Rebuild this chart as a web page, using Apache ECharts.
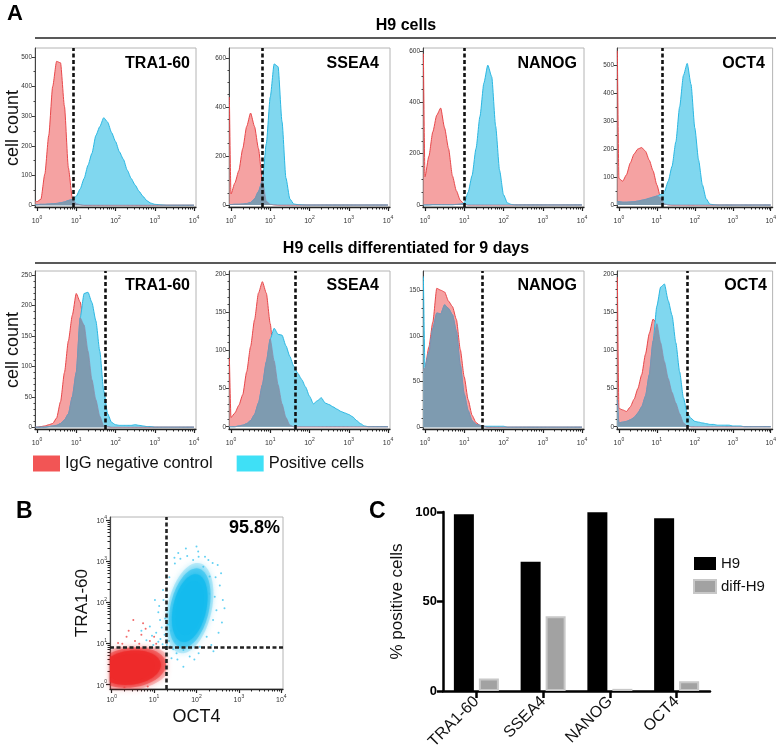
<!DOCTYPE html>
<html><head><meta charset="utf-8">
<script src="https://cdn.jsdelivr.net/npm/echarts@6/dist/echarts.min.js"></script>
<style>html,body{margin:0;padding:0;background:#fff}#c{width:779px;height:756px}</style>
</head><body><div id="c"></div>
<script>
const FONT = '"Liberation Sans", Arial, Helvetica, sans-serif';

// ---------- Panel A: histogram bins (log10 of fluorescence) ----------
const binLog = [-0.04,
  0,0.1,0.2,0.3,0.4,0.5,0.6,0.7,0.8,0.9,
  1,1.1,1.2,1.3,1.4,1.5,1.6,1.7,1.8,1.9,
  2,2.1,2.2,2.3,2.4,2.5,2.6,2.7,2.8,2.9,
  3,3.1,3.2,3.3,3.4,3.5,3.6,3.7,3.8,3.9,
  4];

// H9 cells
const h9Tra160Neg = [15, 12,20,105,235,400,485,480,333,126,25, 5,2,0,0,0,0,0,0,0,0, 0,0,0,0,0,0,0,0,0,0, 0,0,0,0,0,0,0,0,0,0, 0];
const h9Tra160Pos = [2, 2,3,3,4,5,6,8,11,16,20, 30,55,90,135,175,235,265,295,280,245, 215,180,155,118,90,68,47,30,15,7, 3,2,1,0,0,0,0,0,0,0, 0];
const h9Ssea4Neg  = [440, 45,90,140,230,320,375,320,230,100,15, 3,1,0,0,0,0,0,0,0,0, 0,0,0,0,0,0,0,0,0,0, 0,0,0,0,0,0,0,0,0,0, 0];
const h9Ssea4Pos  = [2, 2,3,3,4,6,10,25,55,100,250, 440,575,564,340,110,25,4,2,1,0, 0,0,0,0,0,0,0,0,0,0, 0,0,0,0,0,0,0,0,0,0, 0];
const h9NanogNeg  = [590, 110,190,285,350,378,300,220,113,55,18, 3,0,0,0,0,0,0,0,0,0, 0,0,0,0,0,0,0,0,0,0, 0,0,0,0,0,0,0,0,0,0, 0];
const h9NanogPos  = [0, 0,0,1,1,1,1,1,1,2,3, 8,50,115,220,345,475,545,500,307,135, 40,8,2,0,0,0,0,0,0,0, 0,0,0,0,0,0,0,0,0,0, 0];
const h9Oct4Neg   = [550, 95,85,108,150,182,200,205,192,160,122, 72,26,4,1,0,0,0,0,0,0, 0,0,0,0,0,0,0,0,0,0, 0,0,0,0,0,0,0,0,0,0, 0];
const h9Oct4Pos   = [12, 12,10,10,11,12,14,17,20,24,28, 32,38,48,85,138,225,350,462,505,430, 275,160,72,22,3,1,0,0,0,0, 0,0,0,0,0,0,0,0,0,0, 0];
// H9 cells differentiated for 9 days
const dTra160Neg  = [0, 0,1,2,4,6,15,42,90,142,184, 220,206,168,125,78,45,18,2,1,0, 0,0,0,0,0,0,0,0,0,0, 0,0,0,0,0,0,0,0,0,0, 0];
const dTra160Pos  = [0, 0,0,0,1,2,3,6,12,22,50, 90,180,220,222,205,175,125,60,22,8, 4,3,3,3,3,4,3,2,1,1, 0,0,0,0,0,0,0,0,0,0, 0];
const dSsea4Neg   = [90, 12,18,28,42,72,105,140,175,190,175, 135,86,55,30,12,2,0,0,0,0, 0,0,0,0,0,0,0,0,0,0, 0,0,0,0,0,0,0,0,0,0, 0];
const dSsea4Pos   = [0, 0,0,1,2,4,8,16,31,55,85, 115,129,121,120,106,92,79,70,62,52, 40,30,34,38,31,29,26,23,20,18, 16,13,8,4,1,0,0,0,0,0, 0];
const dNanogNeg   = [62, 65,88,115,152,150,148,138,132,118,85, 55,30,13,5,2,1,0,0,0,0, 0,0,0,0,0,0,0,0,0,0, 0,0,0,0,0,0,0,0,0,0, 0];
const dNanogPos   = [165, 66,82,108,125,124,134,130,123,105,68, 36,18,7,3,2,1,1,1,1,1, 1,0,0,0,0,0,0,0,0,0, 0,0,0,0,0,0,0,0,0,0, 0];
const dOct4Neg    = [196, 24,22,20,26,36,50,68,95,122,141, 135,110,85,63,45,31,17,5,1,0, 0,0,0,0,0,0,0,0,0,0, 0,0,0,0,0,0,0,0,0,0, 0];
const dOct4Pos    = [35, 5,6,7,9,12,18,26,40,68,112, 158,183,187,165,146,110,72,38,18,11, 7,6,5,4,3,3,2,2,2,2, 1,1,1,0,0,0,0,0,0,0, 0];

const gatesH9   = [0.92, 0.80, 0.99, 1.15];
const gatesDiff = [1.75, 1.63, 1.45, 1.80];
const markers   = ['TRA1-60', 'SSEA4', 'NANOG', 'OCT4'];
const yTicksH9   = [[0,100,200,300,400,500],[0,200,400,600],[0,200,400,600],[0,100,200,300,400,500]];
const yTicksDiff = [[0,50,100,150,200,250],[0,50,100,150,200],[0,50,100,150],[0,50,100,150,200]];
const decades = [0,1,2,3,4];

// ---------- Panel B: flow scatter (log10 OCT4, log10 TRA1-60) ----------
const redCloud  = [[0.45, 0.40, 0.95, 0.55, 8]];   // [cx, cy, rx, ry, tilt deg]
const blueCloud = [[1.84, 1.85, 0.52, 1.12, -12]];
const gateB = {x: 1.28, y: 0.90};
const blueDots = [[1.57,3.19],[2.04,3.23],[2.31,2.62],[2.43,2.13],[2.39,1.56],[2.24,1.15],[1.69,0.83],[1.53,0.75],[1.41,0.63],
  [1.14,1.56],[0.90,1.40],[1.02,2.05],[1.21,2.29],[1.29,2.78],[1.49,2.94],[1.92,3.02],[2.16,2.86],[2.47,1.80],[2.08,0.91],
  [1.84,0.67],[1.69,0.42],[0.82,1.07],[1.10,1.03],[0.98,0.95],[1.35,1.05],[1.25,1.20],[1.05,1.25],[1.30,0.95],[1.20,0.97],
  [1.15,1.10],[2.55,2.40],[2.60,1.50],[2.35,0.95],[1.95,0.60],[1.45,0.85],[1.38,0.92],[2.20,3.10],[1.75,3.30],[2.50,2.90],
  [1.30,1.80],[1.10,1.75],[0.70,1.30],[2.30,2.20],[1.60,0.90],[1.50,1.05],[1.33,1.45],[1.40,1.30],[1.18,1.38],[0.95,1.18],
  [2.45,2.60],[2.62,2.05],[1.62,3.05],[2.05,3.10],[2.38,2.95],[2.52,1.25],[2.40,0.80],[1.30,2.45],[1.22,2.05],[1.36,2.60],
  [2.58,2.70],[2.05,0.75],[1.55,0.60],[1.78,3.12],[2.28,3.02],[1.12,1.90],[1.26,1.60],[2.66,1.85],[1.48,3.08],[2.00,3.35]];
const redDots = [[0.51,1.56],[0.74,1.48],[0.35,1.15],[0.70,1.20],[0.55,1.05],[0.90,1.05],[0.15,1.00],[1.05,0.98],[0.80,1.35],
  [0.25,0.98],[0.65,0.98],[0.40,1.30],[1.00,1.15],[0.30,-0.08],[0.85,-0.06]];
const pctLabel = '95.8%';

// ---------- Panel C: % positive cells ----------
const barCats  = ['TRA1-60', 'SSEA4', 'NANOG', 'OCT4'];
const barH9    = [98.8, 72.2, 99.9, 96.5];
const barDiff  = [7.0, 41.8, 1.2, 5.4];

// ---------- build ----------
const RED_LINE = '#e8474a', RED_FILL = '#f5a2a2';
const BLUE_LINE = '#2ab7e2', BLUE_FILL = '#80d7ef';
const OVL_FILL = '#7e9bb0', OVL_LINE = '#8b8aa7';

const minorLog = [];
for (let n = 0; n < 4; n++) for (let k = 2; k < 10; k++) minorLog.push(n + Math.log10(k));

const grids = [], xAxes = [], yAxes = [], series = [], graphics = [];

const panels = [
  {neg:h9Tra160Neg, pos:h9Tra160Pos}, {neg:h9Ssea4Neg, pos:h9Ssea4Pos},
  {neg:h9NanogNeg, pos:h9NanogPos}, {neg:h9Oct4Neg, pos:h9Oct4Pos},
  {neg:dTra160Neg, pos:dTra160Pos}, {neg:dSsea4Neg, pos:dSsea4Pos},
  {neg:dNanogNeg, pos:dNanogPos}, {neg:dOct4Neg, pos:dOct4Pos}
];
const lefts = [35, 229, 423, 617];
const rowTop = [48, 271], rowH = [159, 158];
const yRanges = [[-6,530],[-8,640],[-8,612],[-7,560],[-3,257],[-3,204],[-2,171],[-3,204]];
const minorSteps = [50,50,50,50,10,10,10,10];
const labelRight = [190, 379, 577, 765, 190, 379, 577, 767];

function logLabel(v) { return '{b|10}{s|' + Math.round(v) + '}'; }
const logRich = {
  b: {fontSize: 7, color: '#333', lineHeight: 10, verticalAlign: 'bottom', fontFamily: FONT},
  s: {fontSize: 5, color: '#333', verticalAlign: 'top', fontFamily: FONT}
};

function addLogX(gi, min, max, margin) {
  xAxes.push({gridIndex: gi, type: 'value', position: 'bottom', min, max,
    axisLine: {show: true, onZero: false, lineStyle: {color: '#222', width: 1.3}},
    axisTick: {show: true, customValues: decades, length: 4, lineStyle: {color: '#222', width: 1.2}},
    axisLabel: {show: true, customValues: decades, formatter: logLabel, margin: margin, rich: logRich},
    splitLine: {show: false}});
  xAxes.push({gridIndex: gi, type: 'value', position: 'bottom', min, max,
    axisLine: {show: false, onZero: false},
    axisTick: {show: true, customValues: minorLog, length: 2.5, lineStyle: {color: '#222', width: 1}},
    axisLabel: {show: false}, splitLine: {show: false}});
}

panels.forEach((p, gi) => {
  const row = gi < 4 ? 0 : 1, col = gi % 4;
  grids.push({left: lefts[col], top: rowTop[row], width: 161, height: rowH[row],
    show: true, borderColor: '#b4b4b4', borderWidth: 1, backgroundColor: 'transparent'});
  addLogX(gi, -0.05, 4.05, 8);
  const major = row === 0 ? yTicksH9[col] : yTicksDiff[col];
  const top = major[major.length - 1];
  const minor = [];
  for (let v = 0; v <= top; v += minorSteps[gi]) minor.push(v);
  yAxes.push({gridIndex: gi, type: 'value', position: 'left', min: yRanges[gi][0], max: yRanges[gi][1],
    axisLine: {show: true, onZero: false, lineStyle: {color: '#444', width: 1}},
    axisTick: {show: true, customValues: major, length: 3, lineStyle: {color: '#333'}},
    axisLabel: {show: true, customValues: major, fontSize: 6.5, color: '#333', margin: 3, fontFamily: FONT},
    splitLine: {show: false}});
  yAxes.push({gridIndex: gi, type: 'value', position: 'left', min: yRanges[gi][0], max: yRanges[gi][1],
    axisLine: {show: false, onZero: false},
    axisTick: {show: true, customValues: minor, length: 1.5, lineStyle: {color: '#444'}},
    axisLabel: {show: false}, splitLine: {show: false}});
  const xi = 2 * gi, yi = 2 * gi;
  const negData = binLog.map((x, i) => [x, p.neg[i]]);
  const posData = binLog.map((x, i) => [x, p.pos[i]]);
  const ovlData = binLog.map((x, i) => [x, Math.min(p.neg[i], p.pos[i])]);
  const common = {type: 'line', xAxisIndex: xi, yAxisIndex: yi, showSymbol: false, smooth: 0.2,
    smoothMonotone: 'x', silent: true, animation: false};
  series.push(Object.assign({}, common, {name: 'IgG negative control', data: negData, z: 2,
    lineStyle: {color: RED_LINE, width: 1}, itemStyle: {color: '#f25555'},
    areaStyle: {color: RED_FILL, opacity: 1}}));
  series.push(Object.assign({}, common, {name: 'Positive cells', data: posData, z: 3,
    lineStyle: {color: BLUE_LINE, width: 1}, itemStyle: {color: '#3fe0f6'},
    areaStyle: {color: BLUE_FILL, opacity: 1}}));
  series.push(Object.assign({}, common, {name: 'overlap', data: ovlData, z: 4,
    lineStyle: {color: OVL_LINE, width: 0.8}, areaStyle: {color: OVL_FILL, opacity: 1},
    markLine: {silent: true, symbol: 'none', label: {show: false},
      lineStyle: {color: '#111', width: 2.6, type: [4, 2.5]},
      data: [{xAxis: row === 0 ? gatesH9[col] : gatesDiff[col]}]}}));
  graphics.push({type: 'text', x: labelRight[gi], y: rowTop[row] + (row === 0 ? 8 : 7), z: 100,
    style: {text: markers[col], textAlign: 'right', textVerticalAlign: 'top',
      font: 'bold 16px ' + FONT, fill: '#000'}});
});

// ----- B scatter -----
const GB = 8;
grids.push({left: 110, top: 517, width: 173, height: 172, show: true, borderColor: '#b4b4b4', borderWidth: 1});
addLogX(GB, -0.04, 4.04, 5);
xAxes[2 * GB].name = 'OCT4';
xAxes[2 * GB].nameLocation = 'middle';
xAxes[2 * GB].nameGap = 19;
xAxes[2 * GB].nameTextStyle = {fontSize: 18, color: '#111', fontFamily: FONT};
yAxes.push({gridIndex: GB, type: 'value', position: 'left', min: -0.12, max: 4.07,
  name: 'TRA1-60', nameLocation: 'middle', nameGap: 19, nameRotate: 90,
  nameTextStyle: {fontSize: 17, color: '#111', fontFamily: FONT},
  axisLine: {show: true, onZero: false, lineStyle: {color: '#444', width: 1.2}},
  axisTick: {show: true, customValues: decades, length: 4, lineStyle: {color: '#222', width: 1.2}},
  axisLabel: {show: true, customValues: decades, formatter: logLabel, margin: 3, rich: logRich},
  splitLine: {show: false}});
yAxes.push({gridIndex: GB, type: 'value', position: 'left', min: -0.12, max: 4.07,
  axisLine: {show: false, onZero: false},
  axisTick: {show: true, customValues: minorLog, length: 2.5, lineStyle: {color: '#222'}},
  axisLabel: {show: false}, splitLine: {show: false}});

function cloudRenderer(color, bounds) {
  return function (params, api) {
    const cx = api.value(0), cy = api.value(1), rx = api.value(2), ry = api.value(3);
    const ang = api.value(4) * Math.PI / 180;
    const layers = [[1.0, 0.22, 6], [0.88, 0.45, 4], [0.75, 0.75, 2], [0.6, 1, 0]];
    const children = layers.map(([s, op, blur]) => {
      const pts = [];
      for (let k = 0; k < 72; k++) {
        const t = 2 * Math.PI * k / 72;
        const ex = rx * s * Math.cos(t), ey = ry * s * Math.sin(t);
        let x = cx + ex * Math.cos(ang) - ey * Math.sin(ang);
        let y = cy + ex * Math.sin(ang) + ey * Math.cos(ang);
        x = Math.max(bounds[0], Math.min(bounds[1], x));
        y = Math.max(bounds[2], Math.min(bounds[3], y));
        pts.push(api.coord([x, y]));
      }
      return {type: 'polygon', shape: {points: pts},
        style: {fill: color, opacity: op, shadowBlur: blur, shadowColor: color}};
    });
    return {type: 'group', children};
  };
}
series.push({type: 'custom', name: 'redCloud', xAxisIndex: 2 * GB, yAxisIndex: 2 * GB, data: redCloud, z: 2,
  silent: true, renderItem: cloudRenderer('#ee2a2a', [-0.04, gateB.x, -0.12, gateB.y])});
series.push({type: 'custom', name: 'blueCloud', xAxisIndex: 2 * GB, yAxisIndex: 2 * GB, data: blueCloud, z: 3,
  silent: true, renderItem: cloudRenderer('#14bbee', [-0.04, 4.04, -0.12, 4.07])});
series.push({type: 'scatter', name: 'blueDots', xAxisIndex: 2 * GB, yAxisIndex: 2 * GB, data: blueDots, z: 4,
  symbolSize: 2, itemStyle: {color: '#3cc6f0'}, silent: true});
series.push({type: 'scatter', name: 'redDots', xAxisIndex: 2 * GB, yAxisIndex: 2 * GB, data: redDots, z: 4,
  symbolSize: 2, itemStyle: {color: '#ee4444'}, silent: true,
  markLine: {silent: true, symbol: 'none', label: {show: false},
    lineStyle: {color: '#222', width: 2.6, type: [4, 2.5]},
    data: [{xAxis: gateB.x}, {yAxis: gateB.y}]}});

// ----- C bars -----
const GC = 9;
grids.push({left: 443, top: 512, width: 267, height: 179});
xAxes.push({gridIndex: GC, type: 'category', data: barCats, position: 'bottom',
  axisLine: {show: true, lineStyle: {color: '#000', width: 2.5}},
  axisTick: {show: true, alignWithLabel: true, length: 7, lineStyle: {color: '#000', width: 2.5}},
  axisLabel: {rotate: 45, fontSize: 16, color: '#111', margin: 8, fontFamily: FONT, interval: 0}});
yAxes.push({gridIndex: GC, type: 'value', min: 0, max: 100, interval: 50, position: 'left',
  name: '% positive cells', nameLocation: 'middle', nameGap: 37, nameRotate: 90,
  nameTextStyle: {fontSize: 17, color: '#111', fontFamily: FONT},
  axisLine: {show: true, lineStyle: {color: '#000', width: 2.5}},
  axisTick: {show: true, length: 6, lineStyle: {color: '#000', width: 2.5}},
  axisLabel: {fontSize: 13, fontWeight: 'bold', color: '#000', margin: 6, fontFamily: FONT},
  splitLine: {show: false}});
series.push({type: 'bar', name: 'H9', xAxisIndex: 2 * GB + 2, yAxisIndex: 2 * GB + 2, data: barH9,
  barWidth: 20, barGap: '25%', itemStyle: {color: '#000'}, silent: true});
series.push({type: 'bar', name: 'diff-H9', xAxisIndex: 2 * GB + 2, yAxisIndex: 2 * GB + 2, data: barDiff,
  barWidth: 20, itemStyle: {color: '#a2a2a2', borderColor: '#c8c8c8', borderWidth: 2}, silent: true});

// ----- texts -----
const T = (text, x, y, font, align) => ({type: 'text', x, y, z: 100,
  style: {text, textAlign: align || 'left', textVerticalAlign: 'top', font: font + ' ' + FONT, fill: '#000'}});
graphics.push(T('A', 7, 3, 'bold 22px'));
graphics.push(T('B', 16, 500, 'bold 23px'));
graphics.push(T('C', 369, 500, 'bold 23px'));
graphics.push(T('H9 cells', 406, 18, 'bold 16px', 'center'));
graphics.push(T('H9 cells differentiated for 9 days', 406, 241, 'bold 16px', 'center'));
graphics.push(T(pctLabel, 280, 519, 'bold 18px', 'right'));
graphics.push({type: 'line', shape: {x1: 35, y1: 38, x2: 776, y2: 38}, style: {stroke: '#222', lineWidth: 1.5}});
graphics.push({type: 'line', shape: {x1: 35, y1: 263, x2: 776, y2: 263}, style: {stroke: '#222', lineWidth: 1.5}});
[128, 350].forEach(cy => graphics.push({type: 'text', x: 13, y: cy, rotation: Math.PI / 2, z: 100,
  style: {text: 'cell count', textAlign: 'center', textVerticalAlign: 'middle', font: '18px ' + FONT, fill: '#111'}}));

const chart = echarts.init(document.getElementById('c'), null, {renderer: 'canvas'});
chart.setOption({
  animation: false,
  backgroundColor: '#fff',
  grid: grids, xAxis: xAxes, yAxis: yAxes, series,
  legend: [
    {data: [{name: 'IgG negative control', itemStyle: {color: '#f25555'}},
            {name: 'Positive cells', itemStyle: {color: '#3fe0f6'}}],
     left: 33, top: 455, padding: 0, icon: 'rect', itemWidth: 27, itemHeight: 16, itemGap: 24, selectedMode: false,
     textStyle: {fontSize: 16.5, color: '#111', fontFamily: FONT}},
    {data: ['H9', 'diff-H9'], orient: 'vertical', left: 693, top: 556, padding: 0, icon: 'rect',
     itemWidth: 22, itemHeight: 13, itemGap: 8, selectedMode: false,
     textStyle: {fontSize: 15, color: '#111', fontFamily: FONT}}
  ],
  graphic: graphics
});
</script></body></html>
